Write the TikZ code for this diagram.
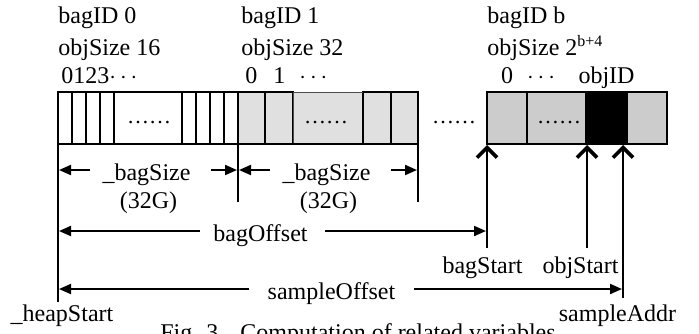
\documentclass[tikz,border=0pt]{standalone}
\usepackage{fontspec}
\setmainfont{Liberation Serif}
\usetikzlibrary{arrows.meta}

\tikzset{
  lbl/.style={inner sep=0pt, anchor=base, font=\fontsize{12}{14}\selectfont},
  dimlbl/.style={lbl, text height=10pt, text depth=0pt},
  dotlbl/.style={lbl, font=\fontsize{11}{12}\selectfont},
  cellline/.style={line width=1pt},
  extline/.style={line width=1pt},
  dimline/.style={line width=1pt, -{Triangle[length=6pt,width=5pt]}},
  ptrline/.style={line width=1pt, -{Straight Barb[length=5pt,width=10pt,line width=1.8pt]}},
}

\begin{document}
\begin{tikzpicture}[x=0.5pt, y=-0.5pt]
        \useasboundingbox (0,0) rectangle (699,333);

        % bag 0 (white cells)
        \draw[cellline] (58,92) rectangle (238,144);
        \foreach \x in {72,86,100,114,182,196,210,224}
            \draw[cellline] (\x,92) -- (\x,144);
        \node[dotlbl] (dots0) at (149,123) {……};

        % bag 1 (light grey cells)
        \fill[black!12] (238,92) rectangle (418,144);
        \foreach \a/\b in {238/265,265/293,363/391,391/418}
            \draw[cellline] (\a,92) rectangle (\b,144);
        \draw[line width=0.5pt, black!70] (293,144) -- (293,92) -- (363,92);
        \draw[cellline] (293,144) -- (363,144);
        \node[dotlbl] (dots1) at (326,123) {……};

        % bags in between
        \node[dotlbl] (dotsmid) at (454,123) {……};

        % bag b (grey cells, objID in black)
        \fill[black!20] (487,92) rectangle (667,144);
        \fill (586,92) rectangle (627,144);
        \draw[cellline] (487,92) rectangle (667,144);
        \foreach \x in {527,586,627}
            \draw[cellline] (\x,92) -- (\x,144);
        \node[dotlbl] (dotsb) at (559,123) {……};

        % bag headers
        \node[lbl, anchor=base west] (bag0id) at (58,23) {bagID 0};
        \node[lbl, anchor=base west] (bag0size) at (58,55) {objSize 16};
        \node[lbl, anchor=base west] (bag0idx) at (61,83) {0123$\cdots$};
        \node[lbl, anchor=base west] (bag1id) at (241,23) {bagID 1};
        \node[lbl, anchor=base west] (bag1size) at (241,55) {objSize 32};
        \node[lbl, anchor=base west] (bag1idx0) at (245,83) {0};
        \node[lbl, anchor=base west] (bag1idx1) at (273,83) {1};
        \node[lbl, anchor=base west] (bag1idxd) at (299,83) {$\cdots$};
        \node[lbl, anchor=base west] (bagbid) at (487,23) {bagID b};
        \node[lbl, anchor=base west] (bagbsize) at (487,55) {objSize 2\textsuperscript{b+4}};
        \node[lbl] (bagbidx0) at (507,83) {0};
        \node[lbl] (bagbidxd) at (541,83) {$\cdots$};
        \node[lbl] (bagbobj) at (606.5,83) {objID};

        % extension lines
        \coordinate (b0bot) at (58,144);
        \coordinate (heapfoot) at (58,302);
        \coordinate (b1bot) at (238,144);
        \coordinate (b1foot) at (238,202);
        \coordinate (b2bot) at (418,144);
        \coordinate (b2foot) at (418,202);
        \draw[extline] (b0bot) -- (heapfoot);
        \draw[extline] (b1bot) -- (b1foot);
        \draw[extline] (b2bot) -- (b2foot);

        % _bagSize
        \node[dimlbl] (size0) at (146.5,180) {\_bagSize};
        \node[lbl] (size0g) at (148.5,208) {(32G)};
        \draw[dimline] ([xshift=-6pt]size0.west) -- ([xshift=0.5pt]b0bot |- size0.west);
        \draw[dimline] ([xshift=10pt]size0.east) -- ([xshift=-0.5pt]b1bot |- size0.east);
        \node[dimlbl] (size1) at (326.5,180) {\_bagSize};
        \node[lbl] (size1g) at (328.5,208) {(32G)};
        \draw[dimline] ([xshift=-6pt]size1.west) -- ([xshift=0.5pt]b1bot |- size1.west);
        \draw[dimline] ([xshift=10pt]size1.east) -- ([xshift=-0.5pt]b2bot |- size1.east);

        % pointers into bag b
        \coordinate (bagStartTip) at (487,145);
        \coordinate (bagStartFoot) at (487,248);
        \coordinate (objStartTip) at (587,145);
        \coordinate (objStartFoot) at (587,248);
        \coordinate (sampleTip) at (623,145);
        \coordinate (sampleFoot) at (623,298);
        \draw[ptrline] (bagStartFoot) -- (bagStartTip);
        \draw[ptrline] (objStartFoot) -- (objStartTip);
        \draw[ptrline] (sampleFoot) -- (sampleTip);
        \node[lbl] (bagStart) at (482.5,273) {bagStart};
        \node[lbl] (objStart) at (580.5,273) {objStart};

        % bagOffset
        \node[dimlbl] (bagOffset) at (260.5,241) {bagOffset};
        \draw[dimline] ([xshift=-6.5pt]bagOffset.west) -- ([xshift=0.5pt]b0bot |- bagOffset.west);
        \draw[dimline] ([xshift=8.5pt]bagOffset.east) -- ([xshift=-0.5pt]bagStartTip |- bagOffset.east);

        % sampleOffset
        \node[dimlbl] (sampleOffset) at (331.5,299) {sampleOffset};
        \draw[dimline] ([xshift=-9pt]sampleOffset.west) -- ([xshift=0.5pt]b0bot |- sampleOffset.west);
        \draw[dimline] ([xshift=9pt]sampleOffset.east) -- ([xshift=-0.5pt]sampleTip |- sampleOffset.east);

        % ends
        \node[lbl] (heapStart) at (62,321) {\_heapStart};
        \node[lbl] (sampleAddr) at (617.5,321.5) {sampleAddr};

        % caption (cut by the page edge, as in the source)
        \node[lbl, anchor=base west] (figno) at (160,340) {Fig. 3};
        \node[lbl, anchor=base west] (figcap) at (240,340) {Computation of related variables};
\end{tikzpicture}
\end{document}
